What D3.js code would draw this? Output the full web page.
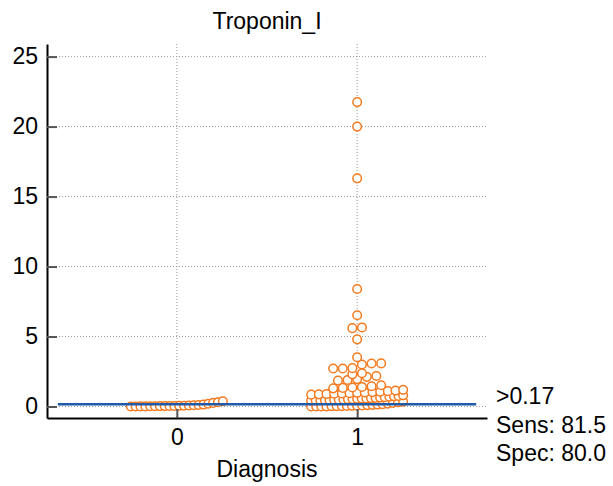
<!DOCTYPE html>
<html>
<head>
<meta charset="utf-8">
<script src="https://cdn.jsdelivr.net/npm/d3@7"></script>
<style>
  body { margin: 0; background: #fff; }
  text { font-family: Arial, 'Liberation Sans', sans-serif; fill: #000; }
</style>
</head>
<body>
<svg id="chart" width="613" height="486"></svg>
<script>
const title = 'Troponin_I';
const xLabel = 'Diagnosis';
const categories = [0, 1];
const yTicks = [0, 5, 10, 15, 20, 25];

// Troponin_I values, Diagnosis = 0
const group0 = [0.00, 0.00, 0.01, 0.01, 0.02, 0.02, 0.03, 0.03, 0.04, 0.04,
  0.05, 0.06, 0.07, 0.09, 0.11, 0.14, 0.20, 0.26, 0.31, 0.38];

// Troponin_I values, Diagnosis = 1
const group1 = [0.00, 0.00, 0.01, 0.01, 0.02, 0.03, 0.03, 0.04, 0.05, 0.06,
  0.08, 0.10, 0.12, 0.14, 0.16, 0.21, 0.26, 0.30, 0.35,
  0.42, 0.43, 0.44, 0.45, 0.46, 0.48, 0.49, 0.50, 0.52, 0.53, 0.55, 0.57,
  0.58, 0.60, 0.62, 0.64, 0.67, 0.70, 0.73, 0.76, 0.80,
  0.85, 0.87, 0.89, 0.91, 0.93, 0.95, 0.98, 1.00, 1.03, 1.06, 1.10, 1.14, 1.19,
  1.30, 1.33, 1.36, 1.40, 1.45, 1.52,
  1.86, 1.90, 1.96, 2.12, 2.18,
  2.30, 2.38,
  2.72, 2.72, 2.74, 3.00, 3.07, 3.08,
  3.52, 4.80, 5.60, 5.65, 6.52, 8.40, 16.30, 20.00, 21.75];

const cutoff = 0.17;
const cutoffLabels = ['>0.17', 'Sens: 81.5', 'Spec: 80.0'];

const svg = d3.select('#chart');
const margin = { top: 44, right: 126, bottom: 68, left: 47 };
const width = 613 - margin.right;
const height = 486 - margin.bottom;
const fontSize = 23;

const x = d3.scaleLinear().domain([-0.72, 1.72]).range([margin.left, width]);
const y = d3.scaleLinear().domain([-0.82, 25.9]).range([height, margin.top]);

// grid
svg.append('g')
  .selectAll('line')
  .data(yTicks)
  .join('line')
  .attr('x1', margin.left).attr('x2', width)
  .attr('y1', d => y(d)).attr('y2', d => y(d))
  .attr('stroke', '#9a9a9a').attr('stroke-width', 1).attr('stroke-dasharray', '1,2');

svg.append('g')
  .selectAll('line')
  .data(categories)
  .join('line')
  .attr('x1', d => x(d)).attr('x2', d => x(d))
  .attr('y1', margin.top).attr('y2', height)
  .attr('stroke', '#9a9a9a').attr('stroke-width', 1).attr('stroke-dasharray', '1,2');

// dot layout: rows of close values, spread sideways in sorted order
const r = 4.3;
const binH = 0.4;
const step = 9.6;
const maxSpread = 92;

function layout(values, cat) {
  const sorted = values.slice().sort((a, b) => a - b);
  const rows = [];
  sorted.forEach(v => {
    const last = rows[rows.length - 1];
    if (last && v - last[0] <= binH) last.push(v);
    else rows.push([v]);
  });
  const pts = [];
  rows.forEach(row => {
    const k = row.length;
    const s = k > 1 ? Math.min(step, maxSpread / (k - 1)) : 0;
    row.forEach((v, i) => pts.push({ cx: x(cat) + (i - (k - 1) / 2) * s, value: v }));
  });
  return pts;
}

const points = layout(group0, categories[0]).concat(layout(group1, categories[1]));

svg.append('g')
  .selectAll('circle')
  .data(points)
  .join('circle')
  .attr('cx', d => d.cx)
  .attr('cy', d => y(d.value))
  .attr('r', r)
  .attr('fill', '#fff')
  .attr('stroke', '#f47b20')
  .attr('stroke-width', 1.5);

// cutoff line
svg.append('line')
  .attr('x1', x(-0.66)).attr('x2', x(1.66))
  .attr('y1', y(cutoff)).attr('y2', y(cutoff))
  .attr('stroke', '#1f5ba8')
  .attr('stroke-width', 2.5);

// axes
const yAxis = svg.append('g')
  .attr('transform', `translate(${margin.left},0)`)
  .call(d3.axisLeft(y).tickValues(yTicks).tickSize(-10).tickSizeOuter(0).tickPadding(9));

const xAxis = svg.append('g')
  .attr('transform', `translate(0,${height})`)
  .call(d3.axisBottom(x).tickValues(categories).tickFormat(d3.format('d'))
    .tickSize(-9).tickSizeOuter(0).tickPadding(11));

[yAxis, xAxis].forEach(a => {
  a.select('.domain').attr('stroke', '#000').attr('stroke-width', 2);
  a.selectAll('.tick line').attr('stroke', '#555').attr('stroke-width', 2);
  a.selectAll('.tick text').attr('font-size', fontSize).attr('font-family', null).attr('fill', '#000');
});

svg.append('text')
  .attr('x', x(0.5)).attr('y', 29)
  .attr('text-anchor', 'middle')
  .attr('font-size', fontSize)
  .text(title);

svg.append('text')
  .attr('x', x(0.5)).attr('y', 477)
  .attr('text-anchor', 'middle')
  .attr('font-size', fontSize)
  .text(xLabel);

svg.append('g')
  .selectAll('text')
  .data(cutoffLabels)
  .join('text')
  .attr('x', 496)
  .attr('y', (d, i) => 404 + i * 28.5)
  .attr('font-size', fontSize)
  .text(d => d);
</script>
</body>
</html>
